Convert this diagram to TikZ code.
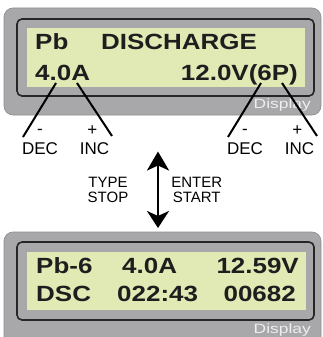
\documentclass[tikz,border=0pt]{standalone}
\usepackage{fontspec}
\usepackage{graphicx}
\setmainfont{Liberation Sans}
\usetikzlibrary{arrows.meta}
\definecolor{panelgray}{RGB}{168,168,170}
\definecolor{paneledge}{RGB}{140,140,142}
\definecolor{framedark}{RGB}{38,38,38}
\definecolor{lcdgreen}{RGB}{225,233,181}
\definecolor{lcdtext}{RGB}{30,30,30}
\definecolor{disptext}{RGB}{238,238,240}
\newcommand{\sxw}[1]{\scalebox{1.18}[1]{#1}}
\begin{document}
\begin{tikzpicture}[x=1pt,y=-1pt,
  panel/.style={fill=panelgray, draw=paneledge, line width=0.6pt, rounded corners=9pt},
  frame/.style={fill=panelgray, draw=framedark, line width=1.6pt, rounded corners=5pt},
  lcdarea/.style={fill=lcdgreen, draw=none},
  lcd/.style={inner sep=0pt, text=lcdtext, font=\fontsize{22}{22}\selectfont\bfseries},
  disp/.style={inner sep=0pt, text=disptext, font=\fontsize{13.5}{13.5}\selectfont},
  lbl/.style={inner sep=0pt, text=black, font=\fontsize{17}{17}\selectfont},
  sign/.style={inner sep=0pt, text=black, font=\fontsize{17}{17}\selectfont},
  small/.style={inner sep=0pt, text=black, align=center, font=\fontsize{15}{14.6}\selectfont},
  lead/.style={draw=black, line width=2pt},
  updown/.style={draw=black, line width=2.6pt, {Stealth[length=19pt,width=22pt,inset=5pt]}-{Stealth[length=17pt,width=22pt,inset=5pt]}}
]
\useasboundingbox (0,0) rectangle (322,337);
\clip (0,0) rectangle (322,337);
\fill[white] (0,0) rectangle (322,337);

% ---------- top display ----------
\draw[panel] (4,8) rectangle (321,115);
\draw[frame] (17,19) rectangle (314,96);
\fill[lcdarea] (27,28) rectangle (305,87);
\node[lcd, anchor=base west] (t1) at (35,50) {\sxw{Pb}};
\node[lcd, anchor=base west] (t2) at (101,49.5) {\sxw{DISCHARGE}};
\node[lcd, anchor=base west] (t3) at (35,80) {\sxw{4.0A}};
\node[lcd, anchor=base east] (t4) at (298,80) {\sxw{12.0V(6P)}};
\node[disp, anchor=base east] (d1) at (311,108.5) {\scalebox{1.29}[1]{Display}};

% ---------- bottom display ----------
\draw[panel] (4,232) rectangle (321,350);
\draw[frame] (17,242) rectangle (314,320);
\fill[lcdarea] (27,252) rectangle (306,310);
\node[lcd, anchor=base west] (b1) at (36,273.5) {\sxw{Pb-6}};
\node[lcd, anchor=base west] (b2) at (122,273.5) {\sxw{4.0A}};
\node[lcd, anchor=base east] (b3) at (299,273.5) {\sxw{12.59V}};
\node[lcd, anchor=base west] (b4) at (36,301.5) {\sxw{DSC}};
\node[lcd, anchor=base west] (b5) at (117,301.5) {\sxw{022:43}};
\node[lcd, anchor=base east] (b6) at (296,301.5) {\sxw{00682}};
\node[disp, anchor=base east] (d2) at (311,333.3) {\scalebox{1.29}[1]{Display}};

% ---------- leader lines ----------
\coordinate (l1a) at (56,83);  \coordinate (l1b) at (23,137);
\coordinate (l2a) at (77,83);  \coordinate (l2b) at (112,136);
\coordinate (l3a) at (261,83); \coordinate (l3b) at (228,137);
\coordinate (l4a) at (282,83); \coordinate (l4b) at (317,136);
\draw[lead] (l1a) -- (l1b);
\draw[lead] (l2a) -- (l2b);
\draw[lead] (l3a) -- (l3b);
\draw[lead] (l4a) -- (l4b);

% ---------- key labels ----------
\node[sign] (m1) at (40,131.5) {-};
\node[sign] (p1) at (92.3,130.5) {+};
\node[lbl, anchor=base] (dec1) at (40,154.3) {DEC};
\node[lbl, anchor=base] (inc1) at (94.5,154.3) {INC};
\node[sign] (m2) at (245,131.5) {-};
\node[sign] (p2) at (297.3,130.5) {+};
\node[lbl, anchor=base] (dec2) at (245,154.3) {DEC};
\node[lbl, anchor=base] (inc2) at (299.5,154.3) {INC};

% ---------- arrow ----------
\coordinate (atop) at (158,151.5);
\coordinate (abot) at (158,228);
\draw[updown] (atop) -- (abot);
\node[small, anchor=base] (type) at (108,187.7) {TYPE};
\node[small, anchor=base] (stop) at (108,202.3) {STOP};
\node[small, anchor=base] (enter) at (196.7,187.7) {ENTER};
\node[small, anchor=base] (start) at (196.7,202.3) {START};
\end{tikzpicture}
\end{document}
